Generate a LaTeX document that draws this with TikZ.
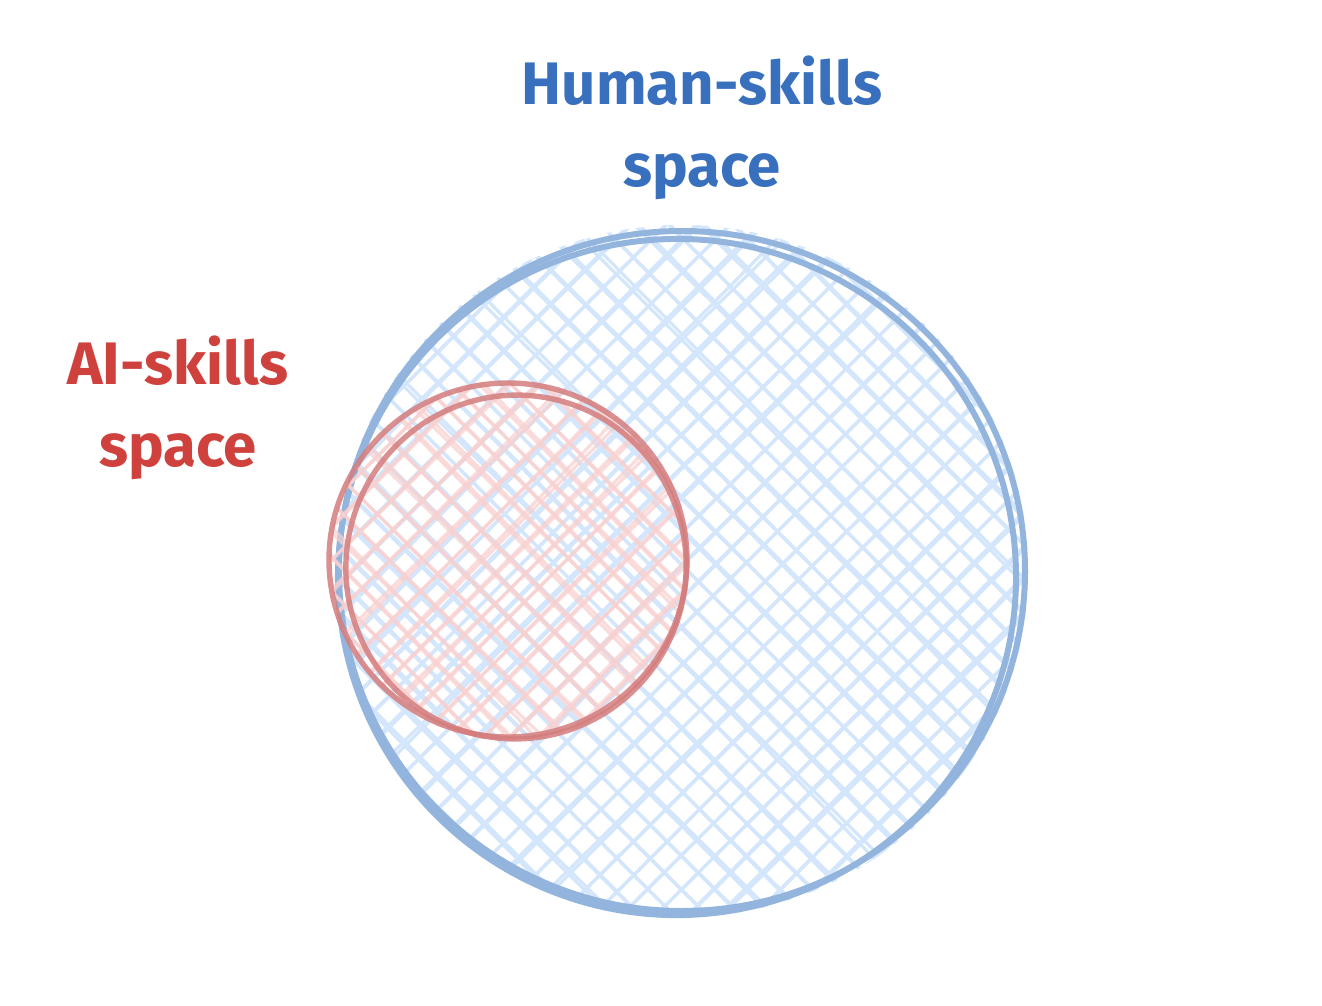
\documentclass[tikz,border=0pt]{standalone}
\usepackage{fontspec}
\setmainfont{Fira Sans}
\usetikzlibrary{positioning}

\definecolor{humanline}{RGB}{147,181,221}
\definecolor{humanfill}{RGB}{212,230,251}
\definecolor{humantext}{RGB}{57,112,190}
\definecolor{ailine}{RGB}{212,125,125}
\definecolor{aifill}{RGB}{248,208,208}
\definecolor{aitext}{RGB}{207,65,60}

\begin{document}
\begin{tikzpicture}[x=0.5pt,y=-0.5pt,
humanedge/.style = {draw=humanline, line width=3pt},
humanhatch/.style = {draw=humanfill, line width=1.6pt},
aiedge/.style = {draw=ailine, line width=2.7pt, opacity=0.85},
aihatch/.style = {draw=aifill, line width=1.6pt, opacity=0.75},
spacetext/.style = {align=center, font=\fontsize{30}{41}\selectfont\bfseries}]
\useasboundingbox (0,0) rectangle (1322,1006);
\pgfmathsetseed{11}

% human skills
\begin{scope}
\clip (682,571) circle[radius=346];
\foreach \a in {45,-45}
 \foreach \k in {-350,-327,...,350} {
  \pgfmathsetmacro\ja{3*rand}
  \pgfmathsetmacro\jb{3*rand}
  \pgfmathsetmacro\jc{4*rand}
  \draw[humanhatch, rotate around={\a:(682,571)}] (332,571+\k+\ja) -- (1032,571+\k+\jb);
  \draw[humanhatch, rotate around={\a:(682,571)}] (332,571+\k+\jb) -- (1032,571+\k+\jc);
 }
\end{scope}
\draw[humanedge] (682,571) ellipse[x radius=343, y radius=340];
\draw[humanedge, rotate around={10:(677,577)}] (677,577) ellipse[x radius=339, y radius=338];

% ai skills
\begin{scope}
\clip (510,561) circle[radius=180];
\foreach \a in {45,-45}
 \foreach \k in {-190,-169,...,190} {
  \pgfmathsetmacro\ja{3*rand}
  \pgfmathsetmacro\jb{3*rand}
  \pgfmathsetmacro\jc{4*rand}
  \draw[aihatch, rotate around={\a:(510,561)}] (320,561+\k+\ja) -- (700,561+\k+\jb);
  \draw[aihatch, rotate around={\a:(510,561)}] (320,561+\k+\jb) -- (700,561+\k+\jc);
 }
\end{scope}
\draw[aiedge] (508,560) ellipse[x radius=179, y radius=177];
\draw[aiedge, rotate around={-15:(516,567)}] (516,567) ellipse[x radius=170, y radius=172];

\node[spacetext, text=humantext] (humanlbl) at (702,128) {Human-skills\\space};
\node[spacetext, text=aitext] (ailbl) at (178,408) {AI-skills\\space};
\end{tikzpicture}
\end{document}
